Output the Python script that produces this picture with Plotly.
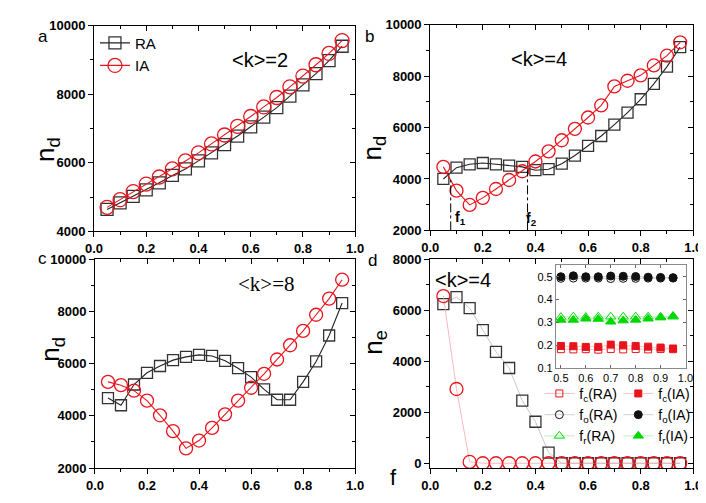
import plotly.graph_objects as go

f = [0.05, 0.10, 0.15, 0.20, 0.25, 0.30, 0.35, 0.40, 0.45, 0.50,
     0.55, 0.60, 0.65, 0.70, 0.75, 0.80, 0.85, 0.90, 0.95]

# panel a  <k>=2
a_RA = [4640, 4830, 5020, 5210, 5415, 5630, 5820, 6055, 6290, 6530,
        6780, 7050, 7330, 7610, 7945, 8270, 8600, 8980, 9400]
a_IA = [4700, 4925, 5160, 5380, 5585, 5820, 6055, 6290, 6550, 6810,
        7065, 7350, 7630, 7905, 8215, 8530, 8860, 9190, 9565]
# panel b  <k>=4
b_RA = [4000, 4440, 4570, 4620, 4570, 4520, 4470, 4340, 4380, 4595,
        4910, 5290, 5670, 6115, 6580, 7100, 7700, 8370, 9130]
b_IA = [4470, 3545, 2990, 3265, 3610, 3960, 4300, 4680, 5075, 5505,
        5950, 6390, 6860, 7600, 7820, 8030, 8415, 8795, 9315]
# panel c  <k>=8
c_RA = [4685, 4410, 5205, 5655, 5915, 6140, 6265, 6340, 6300, 6115,
        5830, 5490, 5020, 4620, 4620, 5305, 6090, 7085, 8330]
c_IA = [5305, 5180, 4970, 4585, 4025, 3415, 2755, 3055, 3540, 4060,
        4585, 5080, 5615, 6165, 6710, 7260, 7880, 8500, 9225]
# panel d  <k>=4, n_e
d_RA = [6245, 6525, 6090, 5230, 4375, 3740, 2455, 1630, 420, 0,
        0, 0, 0, 0, 0, 0, 0, 0, 0]
d_IA = [6565, 2915, 50, 0, 0, 0, 0, 0, 0, 0,
        0, 0, 0, 0, 0, 0, 0, 0, 0]

# inset
fi = [0.50, 0.55, 0.60, 0.65, 0.70, 0.75, 0.80, 0.85, 0.90, 0.95]
fc_RA = [0.183, 0.182, 0.183, 0.181, 0.184, 0.182, 0.184, 0.182, 0.184, 0.183]
fc_IA = [0.197, 0.196, 0.193, 0.193, 0.203, 0.200, 0.197, 0.194, 0.190, 0.186]
fo_RA = [0.493, 0.494, 0.494, 0.494, 0.492, 0.493, 0.493, 0.494, 0.494, 0.494]
fo_IA = [0.500, 0.504, 0.500, 0.500, 0.503, 0.502, 0.501, 0.498, 0.497, 0.496]
fr_RA = [0.323, 0.325, 0.323, 0.325, 0.325, 0.325, 0.325, 0.325, 0.325, 0.325]
fr_IA = [0.311, 0.311, 0.316, 0.315, 0.303, 0.308, 0.311, 0.316, 0.321, 0.328]

f1 = 0.078
f1_top = 3960
f2 = 0.370
f2_top = 4340

W, H = 706, 503
def px(x0, x1):
    return [x0 / W, x1 / W]
def py(y0, y1):
    return [1 - y1 / H, 1 - y0 / H]

RED = "#e8141c"
BLK = "#222222"
GRN = "#00d800"
FONT = "Liberation Sans"

fig = go.Figure()

def main_pair(xa, ya, xs, ys, size_sq, size_ci, show, legend=None, light=False):
    fig.add_trace(go.Scatter(
        x=xs, y=ys[0], xaxis=xa, yaxis=ya, mode="lines+markers", name="RA",
        showlegend=show, legend=legend,
        line=dict(color="#b8b8b8" if light else BLK, width=0.8 if light else 1.1),
        marker=dict(symbol="square-open", size=size_sq, color="#333333",
                    line=dict(width=1.3, color="#333333"))))
    fig.add_trace(go.Scatter(
        x=xs, y=ys[1], xaxis=xa, yaxis=ya, mode="lines+markers", name="IA",
        showlegend=show, legend=legend,
        line=dict(color="#f4a8a8" if light else RED, width=0.8 if light else 1.1),
        marker=dict(symbol="circle-open", size=size_ci, color=RED,
                    line=dict(width=1.3, color=RED))))

main_pair("x", "y", f, (a_RA, a_IA), 12, 14, True, "legend")
main_pair("x2", "y2", f, (b_RA, b_IA), 11, 13, False)
main_pair("x3", "y3", f, (c_RA, c_IA), 11, 13, False)
main_pair("x4", "y4", f, (d_RA, d_IA), 11, 13, False, light=True)

# inset series
inset = [
    ("f<sub>c</sub>(RA)", fc_RA, "square-open", RED, "#f6b4b4", "legend2", 7),
    ("f<sub>o</sub>(RA)", fo_RA, "circle-open", "#111111", "#c8c8c8", "legend2", 8),
    ("f<sub>r</sub>(RA)", fr_RA, "triangle-up-open", GRN, "#a8eea8", "legend2", 9),
    ("f<sub>c</sub>(IA)", fc_IA, "square", RED, "#f6b4b4", "legend3", 7),
    ("f<sub>o</sub>(IA)", fo_IA, "circle", "#111111", "#c8c8c8", "legend3", 8),
    ("f<sub>r</sub>(IA)", fr_IA, "triangle-up", GRN, "#a8eea8", "legend3", 9),
]
for name, ys, sym, col, lcol, leg, sz in inset:
    fig.add_trace(go.Scatter(
        x=fi, y=ys, xaxis="x5", yaxis="y5", mode="lines+markers", name=name,
        legend=leg, line=dict(color=lcol, width=0.8),
        marker=dict(symbol=sym, size=sz, color=col, line=dict(width=1, color=col))))

tickfont = dict(family=FONT, size=13, color="black", weight=700)

def ax_common(rng, dtick, minor_dtick):
    return dict(range=rng, dtick=dtick, showgrid=False, zeroline=False,
                showline=True, linecolor="black", linewidth=1,
                ticks="outside", ticklen=5, tickwidth=1, tickcolor="black",
                tickfont=tickfont, tickprefix="<b>", ticksuffix="</b>",
                minor=dict(dtick=minor_dtick, ticks="outside", ticklen=3,
                           tickcolor="black", showgrid=False))

panels = [
    ("", px(79, 347), py(11, 223), [4000, 10000], [0, 1]),
    ("2", px(424, 694), py(10, 222), [2000, 10000], [0, 1]),
    ("3", px(80, 347), py(252, 467), [2000, 10000], [0, 1]),
    ("4", px(424, 694), py(252, 467), [-190, 8000], [0, 1]),
]
layout = {}
for i, (s, dx, dy, yr, xr) in enumerate(panels):
    xa = ax_common(xr, 0.2, 0.1)
    xa.update(domain=dx, anchor="y" + s, tickformat=".1f")
    ya = ax_common(yr, 2000, 1000)
    ya.update(domain=dy, anchor="x" + s, tickformat="d", tick0=0)
    layout["xaxis" + s] = xa
    layout["yaxis" + s] = ya
    # mirrored inside ticks on top and right
    n = str(6 + i)
    top = dict(range=xr, dtick=0.2, overlaying="x" + s, side="top",
               anchor="y" + s, showgrid=False, zeroline=False,
               showline=True, linecolor="black", linewidth=1,
               ticks="inside", ticklen=5, tickcolor="black",
               showticklabels=False,
               minor=dict(dtick=0.1, ticks="inside", ticklen=3, tickcolor="black"))
    right = dict(range=yr, dtick=2000, tick0=0, overlaying="y" + s, side="right",
                 anchor="x" + s, showgrid=False, zeroline=False,
                 showline=True, linecolor="black", linewidth=1,
                 ticks="inside", ticklen=5, tickcolor="black",
                 showticklabels=False,
                 minor=dict(dtick=1000, ticks="inside", ticklen=3, tickcolor="black"))
    layout["xaxis" + n] = top
    layout["yaxis" + n] = right
    fig.add_trace(go.Scatter(x=[], y=[], xaxis="x" + n, yaxis="y" + s,
                             showlegend=False, hoverinfo="skip"))
    fig.add_trace(go.Scatter(x=[], y=[], xaxis="x" + s, yaxis="y" + n,
                             showlegend=False, hoverinfo="skip"))

inset_font = dict(family=FONT, size=11, color="black")
layout["xaxis5"] = dict(domain=px(553, 686), anchor="y5", range=[0.48, 1.0],
                        dtick=0.1, tick0=0.5, tickformat=".1f", showgrid=False,
                        zeroline=False, showline=True, linecolor="#8a8a8a",
                        mirror="ticks", ticks="inside", ticklen=3,
                        tickcolor="#666", tickfont=inset_font)
layout["yaxis5"] = dict(domain=py(258, 364), anchor="x5", range=[0.1, 0.55],
                        dtick=0.1, tick0=0.1, tickformat=".1f", showgrid=False,
                        zeroline=False, showline=True, linecolor="#8a8a8a",
                        mirror="ticks", ticks="inside", ticklen=3,
                        tickcolor="#666", tickfont=inset_font)

fig.update_layout(**layout)

# dash-dot markers of f1, f2
for xv, yt in ((f1, f1_top), (f2, f2_top)):
    fig.add_shape(type="line", xref="x2", yref="y2", x0=xv, x1=xv, y0=2000, y1=yt,
                  line=dict(color="black", width=1, dash="dashdot"))

ann = []
def A(x, y, text, size, **kw):
    d = dict(x=x / W, y=1 - y / H, xref="paper", yref="paper", text=text,
             showarrow=False, font=dict(family=kw.pop("family", FONT), size=size,
                                        color="black", weight=kw.pop("weight", 400)))
    d.update(kw)
    ann.append(d)

A(20, 10, "a", 17)
A(362, 10, "b", 17)
A(20, 251, "c", 17)
A(365, 253, "d", 17)
A(12, 124, "n<sub>d</sub>", 26, textangle=-90)
A(366, 122, "n<sub>d</sub>", 26, textangle=-90)
A(17, 360, "n<sub>d</sub>", 26, textangle=-90)
A(366, 352, "n<sub>e</sub>", 26, textangle=-90)
A(386, 492, "f", 22)
A(219, 33, "&lt;k&gt;=2", 20)
A(566, 32, "&lt;k&gt;=4", 20)
A(225, 277, "&lt;k&gt;=8", 21, family="Liberation Serif")
A(488, 273, "&lt;k&gt;=4", 20)
A(455, 209, "<b>f<sub>1</sub></b>", 14)
A(536, 210, "<b>f<sub>2</sub></b>", 14)

fig.update_layout(
    annotations=ann,
    width=W, height=H, margin=dict(l=0, r=0, t=0, b=0),
    paper_bgcolor="white", plot_bgcolor="rgba(0,0,0,0)",
    font=dict(family=FONT, color="black"),
    legend=dict(x=80 / W, y=1 - 12 / H, xanchor="left", yanchor="top",
                bgcolor="rgba(0,0,0,0)", font=dict(family=FONT, size=15),
                tracegroupgap=0, itemwidth=30),
    legend2=dict(x=536 / W, y=1 - 374 / H, xanchor="left", yanchor="top",
                 bgcolor="rgba(0,0,0,0)", font=dict(family=FONT, size=14),
                 itemwidth=30),
    legend3=dict(x=617 / W, y=1 - 374 / H, xanchor="left", yanchor="top",
                 bgcolor="rgba(0,0,0,0)", font=dict(family=FONT, size=14),
                 itemwidth=30),
    showlegend=True,
)

fig.write_html("out.html")
